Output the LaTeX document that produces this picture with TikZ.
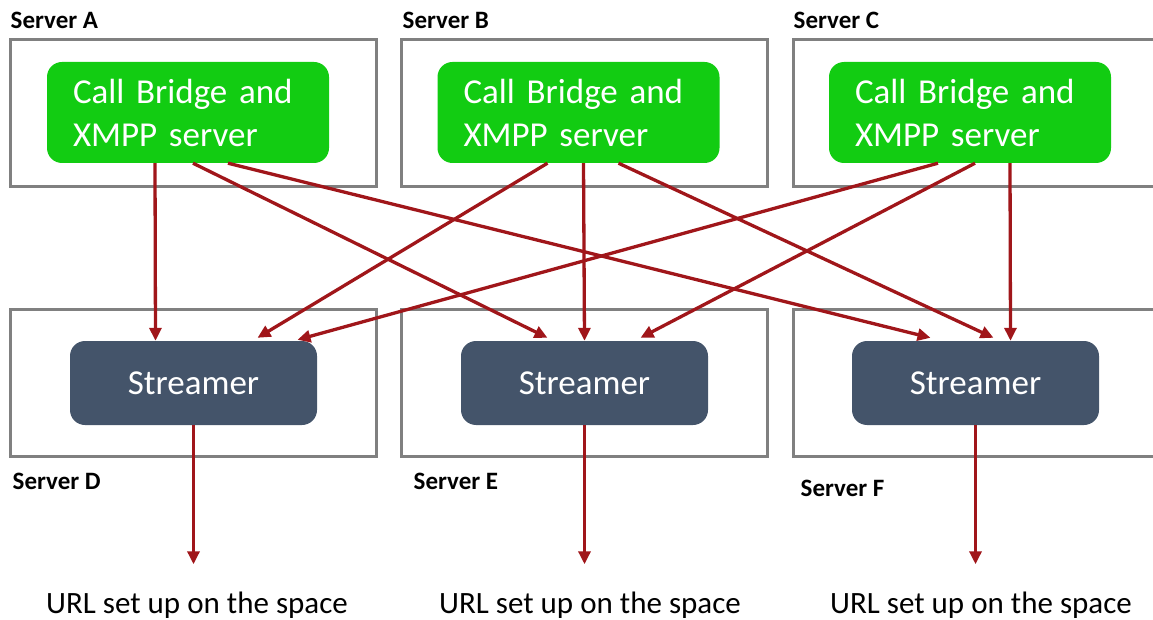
\documentclass[tikz,border=0pt]{standalone}
\usepackage{fontspec}
\setmainfont{Carlito}
\usepackage{tikz}
\usetikzlibrary{positioning,arrows.meta}
\definecolor{boxgray}{HTML}{808080}
\definecolor{bridgegreen}{HTML}{12CC12}
\definecolor{streamblue}{HTML}{44546A}
\definecolor{linkred}{HTML}{A0161A}

\begin{document}
\begin{tikzpicture}[x=1pt,y=-1pt,
server/.style={draw=boxgray,line width=3pt,minimum width=366pt,minimum height=147pt,inner sep=0pt},
srvlabel/.style={inner sep=0pt,font=\fontsize{25}{28}\selectfont\bfseries},
bridge/.style={fill=bridgegreen,rounded corners=15pt,minimum width=282pt,minimum height=101pt,
    text=white,text width=230pt,align=left,inner sep=0pt,font=\fontsize{35}{43}\selectfont},
streamer/.style={fill=streamblue,rounded corners=15pt,minimum width=247pt,minimum height=84pt,
    text=white,inner sep=0pt,font=\fontsize{35}{40}\selectfont},
url/.style={inner sep=0pt,font=\fontsize{31}{36}\selectfont},
link/.style={draw=linkred,line width=3.3pt,-{Triangle[length=13pt,width=12pt]}}]
\useasboundingbox (0,0) rectangle (1153,620);

% upper servers
\node (sa) [server,
    label={[srvlabel,anchor=south west,xshift=2pt,yshift=10pt]north west:Server A}] at (193,113.5) {};
\node (sb) [server,
    label={[srvlabel,anchor=south west,xshift=3pt,yshift=10pt]north west:Server B}] at (584,113.5) {};
\node (sc) [server,
    label={[srvlabel,anchor=south west,xshift=2pt,yshift=10pt]north west:Server C}] at (976,113.5) {};
\node (ga) [bridge] at (188,112.5) {Call Bridge and\\XMPP server};
\node (gb) [bridge] at (578.5,112.5) {Call Bridge and\\XMPP server};
\node (gc) [bridge] at (970,112.5) {Call Bridge and\\XMPP server};

% lower servers
\node (sd) [server,
    label={[srvlabel,anchor=north west,xshift=4pt,yshift=-15pt]south west:Server D}] at (193,382.5) {};
\node (se) [server,
    label={[srvlabel,anchor=north west,xshift=14pt,yshift=-15pt]south west:Server E}] at (584,382.5) {};
\node (sf) [server,
    label={[srvlabel,anchor=north west,xshift=9pt,yshift=-22pt]south west:Server F}] at (976,382.5) {};
\node (td) [streamer] at (193.5,383) {Streamer};
\node (te) [streamer] at (584.5,383) {Streamer};
\node (tf) [streamer] at (975.5,383) {Streamer};

\node (ud) [url,anchor=base] at (197,613) {URL set up on the space};
\node (ue) [url,anchor=base] at (590,613) {URL set up on the space};
\node (uf) [url,anchor=base] at (981,613) {URL set up on the space};

% bridge -> streamer
\draw [link] ([xshift=-33pt]ga.south) -- ([xshift=-38pt]td.north);
\draw [link] ([xshift=5pt]ga.south) -- ([xshift=-37pt,yshift=3pt]te.north);
\draw [link] ([xshift=40pt]ga.south) -- ([xshift=-45pt,yshift=3pt]tf.north);
\draw [link] ([xshift=-31pt]gb.south) -- ([xshift=64pt,yshift=3pt]td.north);
\draw [link] ([xshift=5pt]gb.south) -- ([xshift=0pt]te.north);
\draw [link] ([xshift=40pt]gb.south) -- ([xshift=18pt,yshift=3pt]tf.north);
\draw [link] ([xshift=-32pt]gc.south) -- ([xshift=104pt,yshift=1pt]td.north);
\draw [link] ([xshift=5pt]gc.south) -- ([xshift=56pt,yshift=3pt]te.north);
\draw [link] ([xshift=40pt]gc.south) -- ([xshift=35pt]tf.north);

% streamer -> url
\draw [link,shorten >=27pt] (td.south) -- (td.south |- ud.north);
\draw [link,shorten >=27pt] (te.south) -- (te.south |- ue.north);
\draw [link,shorten >=27pt] (tf.south) -- (tf.south |- uf.north);
\end{tikzpicture}
\end{document}
